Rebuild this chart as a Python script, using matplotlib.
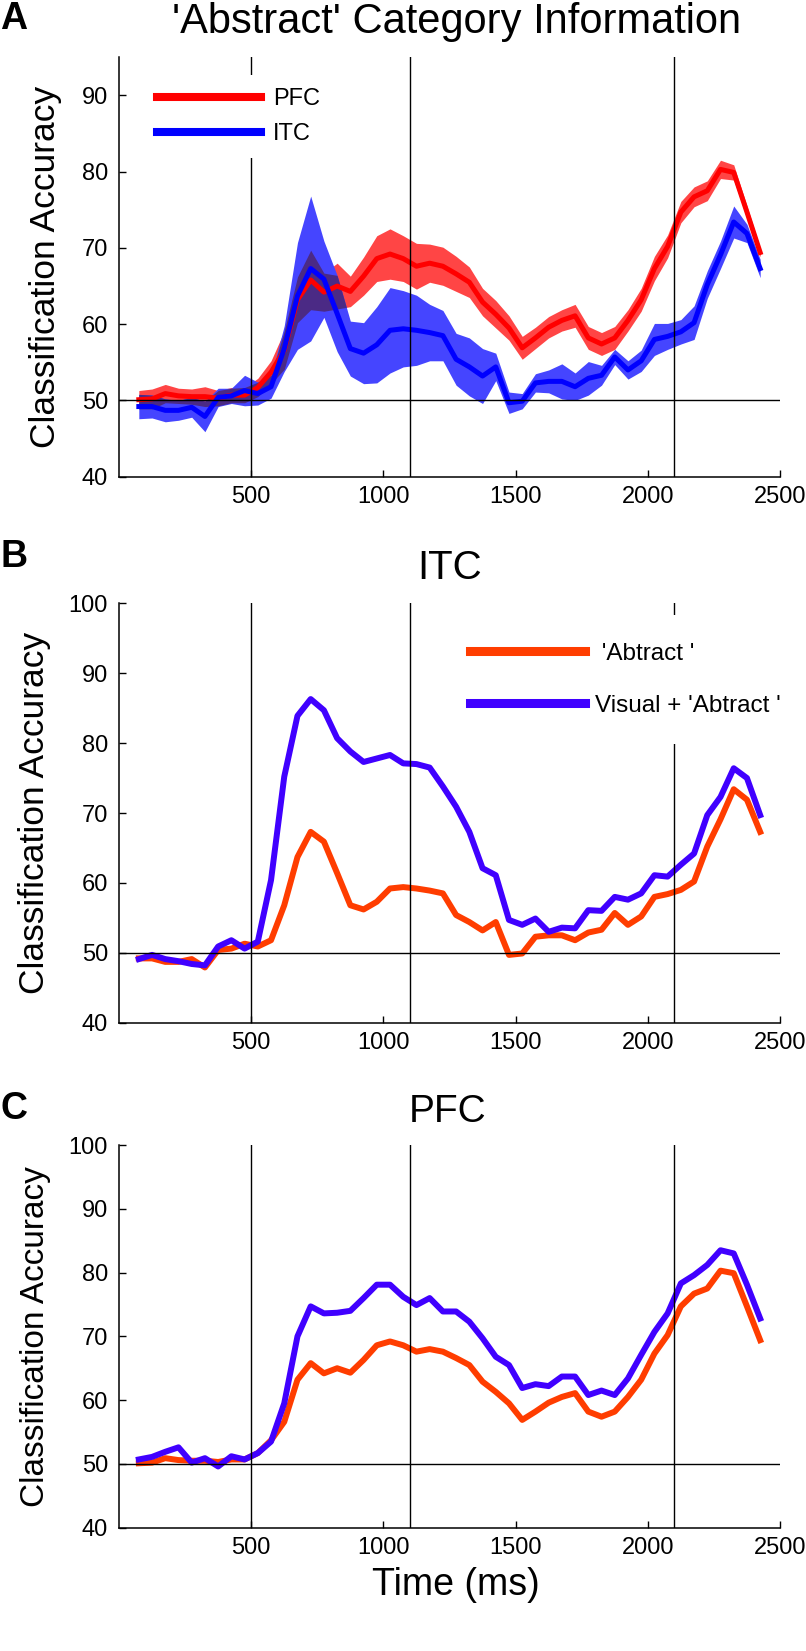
import numpy as np
import matplotlib
matplotlib.use('Agg')
import matplotlib.pyplot as plt

plt.rcParams['font.family'] = ['Liberation Sans', 'DejaVu Sans']

# ---------------- data ----------------
time_ms = np.arange(75, 2426, 50)  # bin centres (ms)
event_times = [500, 1100, 2100]
chance_level = 50

# PFC, 'abstract' category information (panel A red / panel C orange)
pfc_abstract = np.array([50.1, 50.2, 50.9, 50.6, 50.5, 50.5, 50.3, 50.7, 50.7, 51.7,
                         53.7, 56.6, 63.2, 65.8, 64.2, 65.0, 64.3, 66.3, 68.6, 69.2,
                         68.6, 67.6, 68.0, 67.6, 66.6, 65.5, 62.9, 61.3, 59.5, 56.9,
                         58.2, 59.6, 60.5, 61.1, 58.2, 57.4, 58.2, 60.5, 63.2, 67.3,
                         70.2, 74.7, 76.7, 77.5, 80.3, 79.9, 74.7, 69.4])
pfc_sem = np.array([1.2, 1.3, 1.2, 1.0, 1.0, 1.3, 1.0, 1.0, 1.0, 1.2,
                    1.5, 2.5, 3.0, 3.9, 2.5, 3.0, 2.0, 2.5, 3.0, 3.3,
                    3.0, 3.0, 2.5, 2.5, 2.3, 2.0, 1.8, 1.8, 1.6, 1.5,
                    1.4, 1.4, 1.4, 1.5, 1.5, 1.5, 1.5, 1.4, 1.5, 1.6,
                    1.5, 1.4, 1.3, 1.3, 1.2, 1.0, 0.8, 0.6])
# PFC, visual + 'abstract'
pfc_visual_abstract = np.array([50.7, 51.1, 51.9, 52.6, 50.2, 50.9, 49.6, 51.2, 50.7, 51.7,
                                53.5, 59.5, 70.0, 74.7, 73.6, 73.7, 74.0, 76.0, 78.1, 78.1,
                                76.2, 74.9, 76.0, 73.9, 73.9, 72.3, 69.7, 66.8, 65.5, 61.9,
                                62.5, 62.2, 63.7, 63.7, 60.8, 61.5, 60.8, 63.4, 67.1, 70.7,
                                73.6, 78.3, 79.6, 81.2, 83.5, 83.0, 78.1, 72.8])

# ITC, 'abstract' category information (panel A blue / panel B orange)
itc_abstract = np.array([49.2, 49.2, 48.7, 48.7, 49.1, 47.9, 50.4, 50.6, 51.3, 50.9,
                         51.8, 56.8, 63.7, 67.3, 65.9, 61.4, 56.8, 56.2, 57.3, 59.2,
                         59.4, 59.2, 58.9, 58.5, 55.4, 54.4, 53.2, 54.4, 49.7, 49.9,
                         52.3, 52.5, 52.5, 51.8, 52.9, 53.3, 55.7, 54.0, 55.2, 58.0,
                         58.4, 59.0, 60.2, 65.2, 69.1, 73.4, 71.9, 67.3])
itc_sem = np.array([1.6, 1.5, 1.5, 1.3, 1.3, 2.0, 1.2, 1.0, 2.0, 1.5,
                    1.5, 3.0, 7.0, 9.5, 5.0, 5.0, 3.6, 4.0, 5.0, 5.6,
                    5.0, 4.6, 3.7, 3.3, 3.4, 3.8, 3.6, 1.8, 1.4, 1.0,
                    1.2, 1.5, 2.3, 1.8, 2.2, 1.3, 1.0, 1.2, 1.4, 2.1,
                    1.7, 1.6, 2.2, 1.8, 1.8, 2.1, 1.2, 1.2])
# ITC, visual + 'abstract'
itc_visual_abstract = np.array([49.1, 49.7, 49.1, 48.8, 48.4, 48.2, 50.9, 51.8, 50.6, 51.6,
                                60.4, 75.2, 83.9, 86.3, 84.7, 80.7, 78.8, 77.3, 77.8, 78.3,
                                77.1, 77.0, 76.5, 73.8, 70.9, 67.3, 62.1, 61.1, 54.7, 54.0,
                                54.9, 53.0, 53.6, 53.5, 56.1, 56.0, 58.0, 57.6, 58.5, 61.1,
                                60.9, 62.6, 64.2, 69.7, 72.3, 76.4, 75.0, 69.7])

x_ticks = [500, 1000, 1500, 2000, 2500]
yticks_A = [40, 50, 60, 70, 80, 90]
yticks_BC = [40, 50, 60, 70, 80, 90, 100]

# ---------------- figure ----------------
W, H = 806, 1651
fig = plt.figure(figsize=(W / 100, H / 100), dpi=100)


def axes_px(left, top, right, bottom):
    return fig.add_axes([left / W, 1 - bottom / H, (right - left) / W, (bottom - top) / H])


def style(ax, ylim, yticks):
    ax.set_xlim(0, 2500)
    ax.set_ylim(*ylim)
    ax.set_xticks(x_ticks)
    ax.set_yticks(yticks)
    ax.spines['top'].set_visible(False)
    ax.spines['right'].set_visible(False)
    for s in ('left', 'bottom'):
        ax.spines[s].set_linewidth(1.1)
    ax.tick_params(direction='in', length=5, width=1, labelsize=17)
    ax.tick_params(axis='x', pad=7)
    ax.tick_params(axis='y', pad=8)
    for xv in event_times:
        ax.axvline(xv, color='black', lw=1.0, zorder=3)
    ax.axhline(chance_level, color='black', lw=1.0, zorder=3)


axA = axes_px(119, 57.3, 780, 476.7)
axB = axes_px(119, 603.3, 780, 1022.7)
axC = axes_px(119, 1145, 780, 1527.7)

style(axA, (40, 95), yticks_A)
style(axB, (40, 100), yticks_BC)
style(axC, (40, 100), yticks_BC)

# ---- Panel A ----
pfc_lo, pfc_hi = pfc_abstract - pfc_sem, pfc_abstract + pfc_sem
itc_lo, itc_hi = itc_abstract - itc_sem, itc_abstract + itc_sem
axA.fill_between(time_ms, pfc_lo, pfc_hi, color='#ff4545', lw=0, zorder=1)
axA.fill_between(time_ms, itc_lo, itc_hi, color='#4545ff', lw=0, zorder=1.1)
ov_lo = np.maximum(pfc_lo, itc_lo)
ov_hi = np.minimum(pfc_hi, itc_hi)
axA.fill_between(time_ms, ov_lo, ov_hi, where=ov_hi > ov_lo, interpolate=True,
                 color='#4b2a85', lw=0, zorder=1.2)
axA.plot(time_ms, pfc_abstract, color='#ff0000', lw=3.6, zorder=2, label='PFC')
axA.plot(time_ms, itc_abstract, color='#0000ff', lw=3.6, zorder=2.1, label='ITC')
legA = axA.legend(loc='upper left', bbox_to_anchor=(0.038, 0.9578), borderaxespad=0,
                  fontsize=17, handlelength=4.4, handletextpad=0.5, labelspacing=0.57,
                  borderpad=0.55, frameon=True, fancybox=False, framealpha=1,
                  edgecolor='none', facecolor='white')
legA.set_zorder(5)
for h in legA.legend_handles:
    h.set_linewidth(5.8)

# ---- Panel B ----
c_abs = '#ff3d00'
c_vis = '#4000ff'
axB.plot(time_ms, itc_abstract, color=c_abs, lw=4.3, zorder=2, label=" 'Abtract '")
axB.plot(time_ms, itc_visual_abstract, color=c_vis, lw=4.3, zorder=2.1,
         label="Visual + 'Abtract '")
legB = axB.legend(loc='upper left', bbox_to_anchor=(0.49, 0.972), borderaxespad=0,
                  fontsize=17.5, handlelength=4.73, handletextpad=0.41, labelspacing=1.25,
                  borderpad=1.13, frameon=True, fancybox=False, framealpha=1,
                  edgecolor='none', facecolor='white')
legB.set_zorder(5)
for h in legB.legend_handles:
    h.set_linewidth(6.5)

# ---- Panel C ----
axC.plot(time_ms, pfc_abstract, color=c_abs, lw=4.3, zorder=2)
axC.plot(time_ms, pfc_visual_abstract, color=c_vis, lw=4.3, zorder=2.1)

# labels
for ax, xl, fs in ((axA, -0.0855, 25.5), (axB, -0.1036, 25.5), (axC, -0.1036, 24)):
    ax.set_ylabel('Classification Accuracy', fontsize=fs)
    ax.yaxis.set_label_coords(xl, 0.5)
axC.set_xlabel('Time (ms)', fontsize=27)
axC.xaxis.set_label_coords(0.51, -0.1027)

# titles and panel letters
fig.text(457 / W, 1 - 33 / H, "'Abstract' Category Information", fontsize=30,
         ha='center', va='baseline')
fig.text(450 / W, 1 - 579 / H, 'ITC', fontsize=29, ha='center', va='baseline')
fig.text(448 / W, 1 - 1122 / H, 'PFC', fontsize=28, ha='center', va='baseline')
for letter, yb in (('A', 29), ('B', 567), ('C', 1119)):
    fig.text(0.5 / W, 1 - yb / H, letter, fontsize=27, fontweight='bold',
             ha='left', va='baseline')

fig.savefig('out.png', dpi=100)
